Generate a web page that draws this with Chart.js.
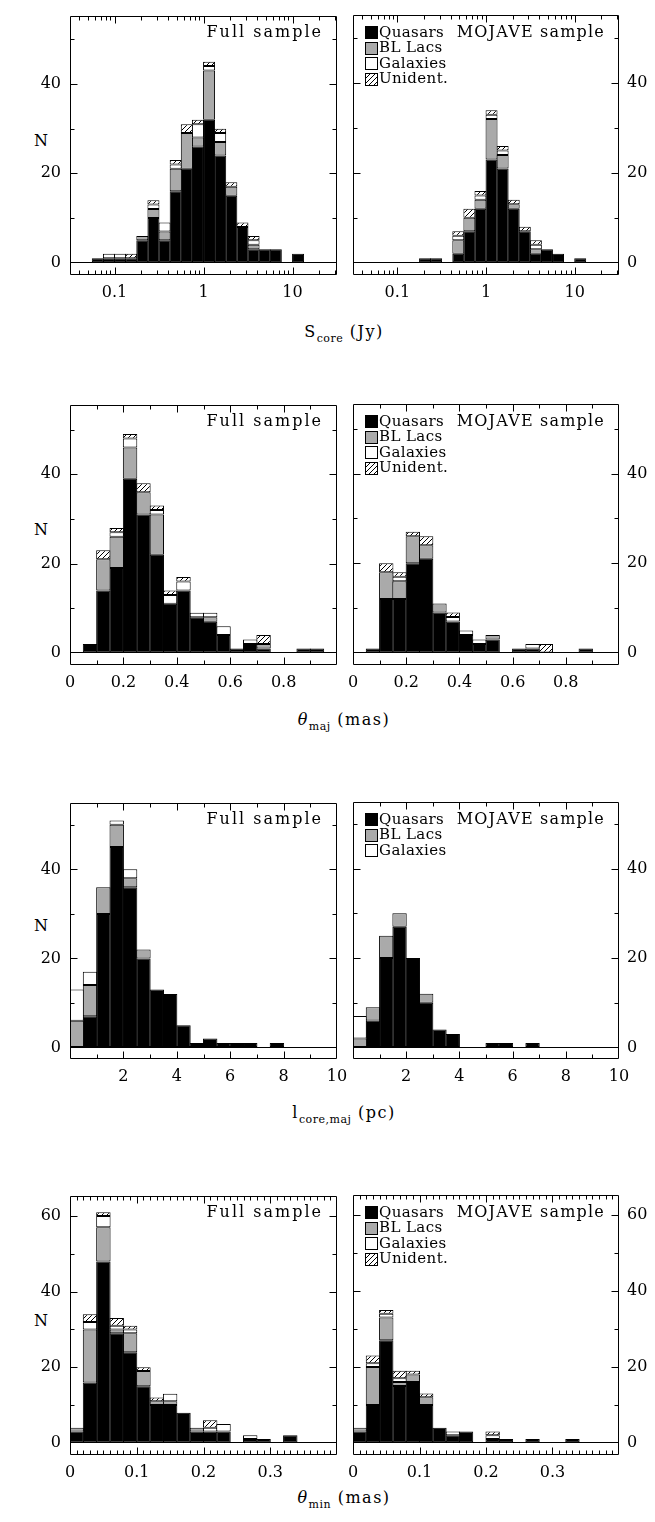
<!DOCTYPE html>
<html>
<head>
<meta charset="utf-8">
<script src="https://cdn.jsdelivr.net/npm/chart.js@4.4.0/dist/chart.umd.min.js"></script>
<style>
  body { margin: 0; background: #fff; width: 655px; height: 1522px; position: relative; overflow: hidden;
         font-family: "DejaVu Serif", serif; color: #000; }
  canvas { position: absolute; }
  .t { position: absolute; white-space: nowrap; font-size: 16px; line-height: 16px; letter-spacing: 2px; }
  .t.moj { letter-spacing: 1.2px; }
  .lg { position: absolute; white-space: nowrap; font-size: 15px; line-height: 15px; letter-spacing: 0.4px; }
  .ax { position: absolute; white-space: nowrap; font-size: 16px; line-height: 16px; letter-spacing: 1.5px; transform: translateX(-50%); }
  .ax sub { font-size: 11px; vertical-align: -5px; letter-spacing: 0.5px; }
  .sw { position: absolute; width: 11px; height: 11px; border: 1px solid #000; }
</style>
</head>
<body>

<!-- y titles -->
<div class="t" style="left:34px;top:133px">N</div>
<div class="t" style="left:34px;top:522px">N</div>
<div class="t" style="left:34px;top:918px">N</div>
<div class="t" style="left:34px;top:1313px">N</div>

<!-- x titles -->
<div class="ax" style="left:344px;top:324px">S<sub>core</sub> (Jy)</div>
<div class="ax" style="left:344px;top:712px"><i>θ</i><sub>maj</sub> (mas)</div>
<div class="ax" style="left:344px;top:1105px">l<sub>core,maj</sub> (pc)</div>
<div class="ax" style="left:344px;top:1490px"><i>θ</i><sub>min</sub> (mas)</div>

<script>
// ---- bins (lower edges) ----
const sCoreLogBins = [-1.5, -1.375, -1.25, -1.125, -1, -0.875, -0.75, -0.625, -0.5, -0.375, -0.25, -0.125,
                      0, 0.125, 0.25, 0.375, 0.5, 0.625, 0.75, 0.875, 1, 1.125, 1.25, 1.375];
const thetaMajBins = [0, 0.05, 0.1, 0.15, 0.2, 0.25, 0.3, 0.35, 0.4, 0.45, 0.5, 0.55, 0.6, 0.65, 0.7, 0.75, 0.8, 0.85, 0.9, 0.95];
const lCoreBins = [0, 0.5, 1, 1.5, 2, 2.5, 3, 3.5, 4, 4.5, 5, 5.5, 6, 6.5, 7, 7.5, 8, 8.5, 9, 9.5];
const thetaMinBins = [0, 0.02, 0.04, 0.06, 0.08, 0.1, 0.12, 0.14, 0.16, 0.18, 0.2, 0.22, 0.24, 0.26, 0.28, 0.3, 0.32, 0.34, 0.36, 0.38];

// ---- S_core ----
const sCoreFullQso = [0,0,1,1,1,1,5,10,5,16,21,26,32,24,15,8,3,3,3,0,2,0,0,0];
const sCoreFullBll = [0,0,0,0,0,0,1,2,2,5,8,2,11,3,2,0,1,0,0,0,0,0,0,0];
const sCoreFullGal = [0,0,0,1,1,0,0,1,2,1,0,3,1,2,0,0,1,0,0,0,0,0,0,0];
const sCoreFullUnid = [0,0,0,0,0,1,0,1,0,1,2,1,1,1,1,1,1,0,0,0,0,0,0,0];
const sCoreMojQso = [0,0,0,0,0,0,1,1,0,2,7,12,23,21,12,7,2,3,2,0,1,0,0,0];
const sCoreMojBll = [0,0,0,0,0,0,0,0,0,3,3,2,9,3,1,0,1,0,0,0,0,0,0,0];
const sCoreMojGal = [0,0,0,0,0,0,0,0,0,1,0,1,1,1,0,0,1,0,0,0,0,0,0,0];
const sCoreMojUnid = [0,0,0,0,0,0,0,0,0,1,2,1,1,1,1,1,1,0,0,0,0,0,0,0];

// ---- theta_maj ----
const tMajFullQso = [0,2,14,19,39,31,22,11,14,8,7,4,1,2,1,0,0,1,1,0];
const tMajFullBll = [0,0,7,7,7,5,9,0,0,0,1,0,0,0,1,0,0,0,0,0];
const tMajFullGal = [0,0,0,1,2,0,1,2,2,1,1,2,0,1,0,0,0,0,0,0];
const tMajFullUnid = [0,0,2,1,1,2,1,1,1,0,0,0,0,0,2,0,0,0,0,0];
const tMajMojQso = [0,1,12,12,20,21,9,7,4,2,3,0,1,1,0,0,0,1,0,0];
const tMajMojBll = [0,0,6,4,6,3,2,0,0,0,1,0,0,0,0,0,0,0,0,0];
const tMajMojGal = [0,0,0,1,0,0,0,1,1,1,0,0,0,1,0,0,0,0,0,0];
const tMajMojUnid = [0,0,2,1,1,2,0,1,0,0,0,0,0,0,2,0,0,0,0,0];

// ---- l_core,maj ----
const lCoreFullQso = [0,7,30,45,36,20,13,12,5,1,2,1,1,1,0,1,0,0,0,0];
const lCoreFullBll = [6,7,6,5,2,2,0,0,0,0,0,0,0,0,0,0,0,0,0,0];
const lCoreFullGal = [7,3,0,1,2,0,0,0,0,0,0,0,0,0,0,0,0,0,0,0];
const lCoreMojQso = [0,6,20,27,20,10,4,3,0,0,1,1,0,1,0,0,0,0,0,0];
const lCoreMojBll = [2,3,5,3,0,2,0,0,0,0,0,0,0,0,0,0,0,0,0,0];
const lCoreMojGal = [5,0,0,0,0,0,0,0,0,0,0,0,0,0,0,0,0,0,0,0];

// ---- theta_min ----
const tMinFullQso = [3,16,48,29,24,15,10,10,8,3,3,3,0,1,1,0,2,0,0,0];
const tMinFullBll = [1,14,9,1,5,4,1,1,0,1,0,0,0,0,0,0,0,0,0,0];
const tMinFullGal = [0,2,3,1,1,0,0,2,0,0,1,2,0,1,0,0,0,0,0,0];
const tMinFullUnid = [0,2,1,2,1,1,1,0,0,0,2,0,0,0,0,0,0,0,0,0];
const tMinMojQso = [3,10,27,15,16,10,4,2,3,0,1,1,0,1,0,0,1,0,0,0];
const tMinMojBll = [1,10,6,1,2,2,0,0,0,0,0,0,0,0,0,0,0,0,0,0];
const tMinMojGal = [0,1,1,1,0,0,0,1,0,0,1,0,0,0,0,0,0,0,0,0];
const tMinMojUnid = [0,2,1,2,1,1,0,0,0,0,1,0,0,0,0,0,0,0,0,0];

// ---- tick labels ----
const sCoreTicks = [0.1, 1, 10];
const tMajTicks = [0, 0.2, 0.4, 0.6, 0.8];
const lCoreTicks = [2, 4, 6, 8, 10];
const tMinTicks = [0, 0.1, 0.2, 0.3];
const nTicks = [0, 20, 40];
const nTicksMin = [0, 20, 40, 60];

const FONT = '"DejaVu Serif", serif';
const PAD_T = 10, XAX_H = 40;

function hatchPattern() {
  const c = document.createElement('canvas');
  c.width = 5; c.height = 5;
  const g = c.getContext('2d');
  g.fillStyle = '#fff'; g.fillRect(0, 0, 5, 5);
  g.strokeStyle = '#000'; g.lineWidth = 1;
  g.beginPath();
  g.moveTo(-1, 6); g.lineTo(6, -1);
  g.moveTo(-1, 1); g.lineTo(1, -1);
  g.moveTo(4, 6); g.lineTo(6, 4);
  g.stroke();
  return g.createPattern(c, 'repeat');
}
const HATCH = hatchPattern();
const FILLS = ['#000', '#aaaaaa', '#fff', HATCH];
const NAMES = ['Quasars', 'BL Lacs', 'Galaxies', 'Unident.'];

// box, inward tick marks
const framePlugin = {
  id: 'frame',
  afterDraw(chart, args, o) {
    const { ctx, chartArea: a } = chart;
    const x = chart.scales.x, y = chart.scales.y;
    const L = Math.round(a.left) + 0.5, R = Math.round(a.right) - 0.5;
    const T = Math.round(a.top) + 0.5, B = Math.round(a.bottom) - 0.5;
    ctx.save();
    ctx.strokeStyle = '#000';
    ctx.lineWidth = 1;
    ctx.beginPath();
    ctx.rect(L, T, R - L, B - T);
    const xt = (vals, len) => vals.forEach(v => {
      const p = Math.round(x.getPixelForValue(v)) + 0.5;
      ctx.moveTo(p, T); ctx.lineTo(p, T + len);
      ctx.moveTo(p, B); ctx.lineTo(p, B - len);
    });
    const yt = (vals, len) => vals.forEach(v => {
      const p = Math.round(y.getPixelForValue(v)) + 0.5;
      ctx.moveTo(L, p); ctx.lineTo(L + len, p);
      ctx.moveTo(R, p); ctx.lineTo(R - len, p);
    });
    xt(o.xMajor, 7); xt(o.xMinor, 4);
    yt(o.yMajor, 7); yt(o.yMinor, 4);
    ctx.stroke();
    ctx.restore();
  }
};

function makePanel(p) {
  const left = p.side === 'left';
  const W = left ? 360 : 325;
  const H = PAD_T + p.boxH + XAX_H;
  const cv = document.createElement('canvas');
  cv.width = W; cv.height = H;
  cv.style.left = (left ? 0 : 330) + 'px';
  cv.style.top = (p.boxTop - PAD_T) + 'px';
  cv.style.width = W + 'px'; cv.style.height = H + 'px';
  document.body.appendChild(cv);

  const centers = p.bins.map((b, i) => {
    const w = i + 1 < p.bins.length ? p.bins[i + 1] - b : b - p.bins[i - 1];
    return p.log ? Math.pow(10, b + w / 2) : b + w / 2;
  });
  const datasets = p.series.map((vals, k) => ({
    label: NAMES[k],
    data: vals.map((v, i) => ({ x: centers[i], y: v })),
    backgroundColor: FILLS[k],
    borderColor: '#000',
    borderWidth: 1,
    borderSkipped: false,
    barPercentage: 1.08,
    categoryPercentage: 1
  }));

  new Chart(cv, {
    type: 'bar',
    data: { datasets },
    plugins: [framePlugin],
    options: {
      responsive: false,
      animation: false,
      devicePixelRatio: 1,
      events: [],
      layout: { padding: { top: PAD_T, bottom: 0, left: left ? 0 : 23, right: left ? 23 : 0 } },
      plugins: {
        legend: { display: false },
        tooltip: { enabled: false },
        frame: { xMajor: p.xMajor, xMinor: p.xMinor, yMajor: p.yMajor, yMinor: p.yMinor }
      },
      scales: {
        x: {
          type: p.log ? 'logarithmic' : 'linear',
          min: p.xMin, max: p.xMax,
          offset: false,
          stacked: true,
          grid: { display: false, drawTicks: false },
          border: { display: false },
          afterBuildTicks: s => { s.ticks = p.xLabels.map(v => ({ value: v })); },
          afterFit: s => { s.height = XAX_H; },
          ticks: { autoSkip: false, maxRotation: 0, minRotation: 0, padding: 8, color: '#000',
                   font: { family: FONT, size: 16 }, callback: v => String(v) }
        },
        y: {
          position: left ? 'left' : 'right',
          min: p.yMin, max: p.yMax,
          stacked: true,
          grid: { drawTicks: false, lineWidth: 1,
                  color: c => (c.tick && c.tick.value === 0) ? '#000' : 'rgba(0,0,0,0)' },
          border: { display: false },
          afterBuildTicks: s => { s.ticks = p.yLabels.map(v => ({ value: v })); },
          afterFit: s => { s.width = left ? 70 : 36; },
          ticks: { padding: left ? 9 : 8, color: '#000', font: { family: FONT, size: 16 },
                   callback: v => String(v) }
        }
      }
    }
  });
}

const logMinor = [0.04,0.05,0.06,0.07,0.08,0.09,0.2,0.3,0.4,0.5,0.6,0.7,0.8,0.9,2,3,4,5,6,7,8,9,20,30];
const rows = [
  { boxTop: 7, boxH: 268, log: true, bins: sCoreLogBins, xMin: Math.pow(10, -1.5), xMax: Math.pow(10, 1.5),
    xLabels: sCoreTicks, xMajor: [0.1, 1, 10], xMinor: logMinor,
    yMin: -2.75, yMax: 55.3, yLabels: nTicks, yMajor: [20, 40], yMinor: [10, 30, 50],
    full: [sCoreFullQso, sCoreFullBll, sCoreFullGal, sCoreFullUnid],
    moj: [sCoreMojQso, sCoreMojBll, sCoreMojGal, sCoreMojUnid] },
  { boxTop: 396, boxH: 269, log: false, bins: thetaMajBins, xMin: 0, xMax: 1,
    xLabels: tMajTicks, xMajor: [0.2, 0.4, 0.6, 0.8], xMinor: [0.1, 0.3, 0.5, 0.7, 0.9],
    yMin: -2.7, yMax: 55.6, yLabels: nTicks, yMajor: [20, 40], yMinor: [10, 30, 50],
    full: [tMajFullQso, tMajFullBll, tMajFullGal, tMajFullUnid],
    moj: [tMajMojQso, tMajMojBll, tMajMojGal, tMajMojUnid] },
  { boxTop: 794, boxH: 265, log: false, bins: lCoreBins, xMin: 0, xMax: 10,
    xLabels: lCoreTicks, xMajor: [2, 4, 6, 8], xMinor: [1, 3, 5, 7, 9],
    yMin: -2.6, yMax: 55, yLabels: nTicks, yMajor: [20, 40], yMinor: [10, 30, 50],
    full: [lCoreFullQso, lCoreFullBll, lCoreFullGal],
    moj: [lCoreMojQso, lCoreMojBll, lCoreMojGal] },
  { boxTop: 1187, boxH: 268, log: false, bins: thetaMinBins, xMin: 0, xMax: 0.4,
    xLabels: tMinTicks, xMajor: [0.1, 0.2, 0.3],
    xMinor: [0.01,0.02,0.03,0.04,0.05,0.06,0.07,0.08,0.09,0.11,0.12,0.13,0.14,0.15,0.16,0.17,0.18,0.19,
             0.21,0.22,0.23,0.24,0.25,0.26,0.27,0.28,0.29,0.31,0.32,0.33,0.34,0.35,0.36,0.37,0.38,0.39],
    yMin: -3.2, yMax: 65.4, yLabels: nTicksMin, yMajor: [20, 40, 60], yMinor: [10, 30, 50],
    full: [tMinFullQso, tMinFullBll, tMinFullGal, tMinFullUnid],
    moj: [tMinMojQso, tMinMojBll, tMinMojGal, tMinMojUnid] }
];

function addText(cls, html, css) {
  const d = document.createElement('div');
  d.className = cls;
  d.innerHTML = html;
  Object.assign(d.style, css);
  document.body.appendChild(d);
}

rows.forEach(r => {
  makePanel(Object.assign({}, r, { side: 'left', series: r.full }));
  makePanel(Object.assign({}, r, { side: 'right', series: r.moj }));
  const cy = r.boxTop + 25;
  addText('t', 'Full sample', { right: '332px', top: (cy - 8) + 'px' });
  addText('t moj', 'MOJAVE sample', { right: '50px', top: (cy - 8) + 'px' });
  r.moj.forEach((s, k) => {
    const yc = cy + k * 15.5;
    const sw = document.createElement('div');
    sw.className = 'sw';
    sw.style.left = '365px';
    sw.style.top = Math.round(yc - 6) + 'px';
    sw.style.background = k === 3 ? 'repeating-linear-gradient(135deg, #fff 0 2.5px, #000 2.5px 3.5px)' : FILLS[k];
    document.body.appendChild(sw);
    addText('lg', NAMES[k], { left: '379px', top: Math.round(yc - 7.5) + 'px' });
  });
});
</script>
</body>
</html>
